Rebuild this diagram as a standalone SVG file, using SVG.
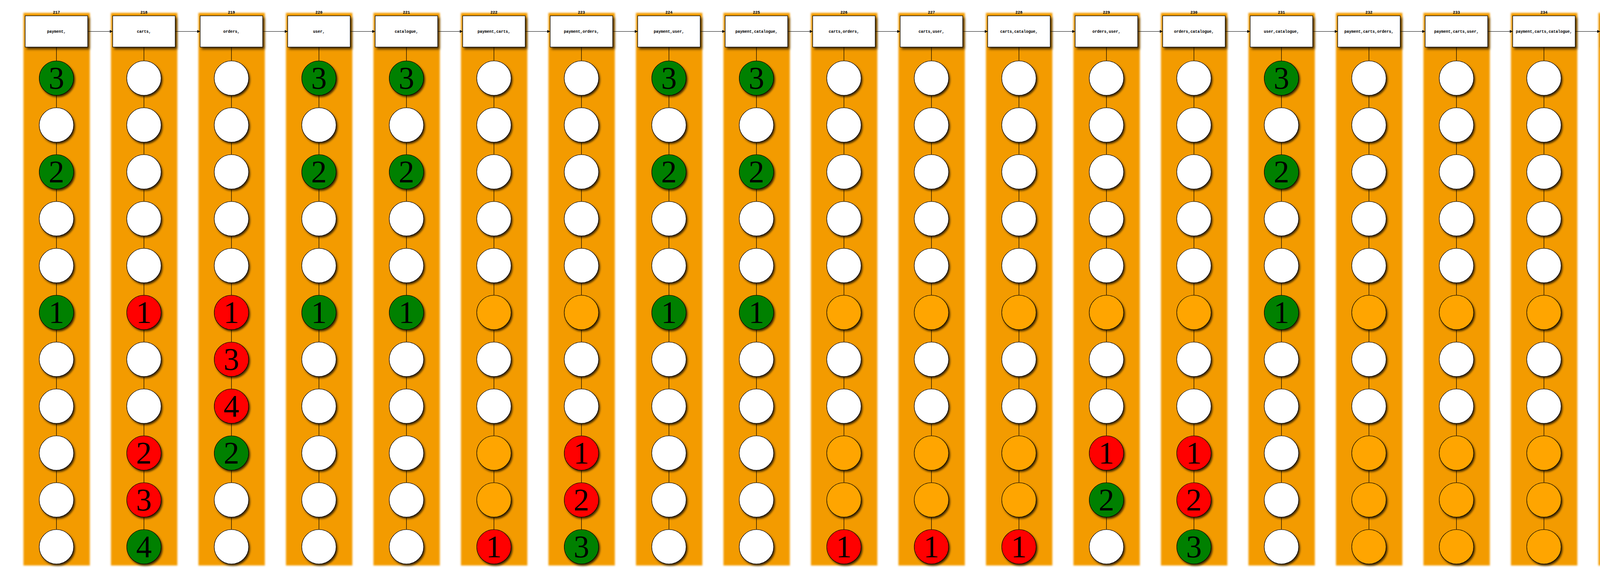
<svg xmlns="http://www.w3.org/2000/svg" xmlns:xlink="http://www.w3.org/1999/xlink" width="7008" height="1480" viewBox="0 0 7008 1480">
<style>
circle{stroke:#000;stroke-width:1.2;filter:url(#sh)}
.w circle{fill:#fff}.g circle{fill:#008000}.r circle{fill:#ff0000}.o circle{fill:#ffa500}
.d{font-family:"Liberation Serif","DejaVu Serif",serif;font-size:80px;text-anchor:middle;fill:#000}
.box rect{fill:#fff;stroke:#000;stroke-width:1.3;filter:url(#bs)}
.t{font-family:"Liberation Mono","DejaVu Sans Mono",monospace;font-weight:bold;font-size:10px;text-anchor:middle;fill:#000}
.cbg{fill:#f39b06;filter:url(#bl)}
#edges path,#edges use{stroke:#000;stroke-width:1.2;fill:none}
</style>
<defs>
<filter id="sh" x="-30%" y="-30%" width="170%" height="170%"><feDropShadow dx="3" dy="4" stdDeviation="2.5" flood-color="#000" flood-opacity="0.75"/></filter>
<filter id="bs" x="-20%" y="-30%" width="140%" height="170%"><feDropShadow dx="4" dy="5" stdDeviation="3" flood-color="#000" flood-opacity="0.7"/></filter>
<filter id="bl" x="-10%" y="-5%" width="120%" height="110%"><feGaussianBlur stdDeviation="2"/></filter>
<marker id="ah" markerUnits="userSpaceOnUse" markerWidth="9" markerHeight="9" refX="8" refY="4" orient="auto"><path d="M0,0L8,4L0,8z" fill="#000" stroke="none"/></marker>
<path id="vl" d="M144.5,120.5V156M144.5,244V276M144.5,364V396M144.5,484V516M144.5,604V636M144.5,724V756M144.5,844V876M144.5,964V996M144.5,1084V1116M144.5,1204V1236M144.5,1324V1356"/>
</defs>
<rect width="7008" height="1480" fill="#fff"/>
<g id="clusters">
<g id="k217" transform="translate(0,0)"><rect class="cbg" x="60" y="33" width="170" height="1415"/><text class="t" x="144.5" y="34.5">217</text></g>
<g id="k218" transform="translate(224,0)"><rect class="cbg" x="60" y="33" width="170" height="1415"/><text class="t" x="144.5" y="34.5">218</text></g>
<g id="k219" transform="translate(448,0)"><rect class="cbg" x="60" y="33" width="170" height="1415"/><text class="t" x="144.5" y="34.5">219</text></g>
<g id="k220" transform="translate(672,0)"><rect class="cbg" x="60" y="33" width="170" height="1415"/><text class="t" x="144.5" y="34.5">220</text></g>
<g id="k221" transform="translate(896,0)"><rect class="cbg" x="60" y="33" width="170" height="1415"/><text class="t" x="144.5" y="34.5">221</text></g>
<g id="k222" transform="translate(1120,0)"><rect class="cbg" x="60" y="33" width="170" height="1415"/><text class="t" x="144.5" y="34.5">222</text></g>
<g id="k223" transform="translate(1344,0)"><rect class="cbg" x="60" y="33" width="170" height="1415"/><text class="t" x="144.5" y="34.5">223</text></g>
<g id="k224" transform="translate(1568,0)"><rect class="cbg" x="60" y="33" width="170" height="1415"/><text class="t" x="144.5" y="34.5">224</text></g>
<g id="k225" transform="translate(1792,0)"><rect class="cbg" x="60" y="33" width="170" height="1415"/><text class="t" x="144.5" y="34.5">225</text></g>
<g id="k226" transform="translate(2016,0)"><rect class="cbg" x="60" y="33" width="170" height="1415"/><text class="t" x="144.5" y="34.5">226</text></g>
<g id="k227" transform="translate(2240,0)"><rect class="cbg" x="60" y="33" width="170" height="1415"/><text class="t" x="144.5" y="34.5">227</text></g>
<g id="k228" transform="translate(2464,0)"><rect class="cbg" x="60" y="33" width="170" height="1415"/><text class="t" x="144.5" y="34.5">228</text></g>
<g id="k229" transform="translate(2688,0)"><rect class="cbg" x="60" y="33" width="170" height="1415"/><text class="t" x="144.5" y="34.5">229</text></g>
<g id="k230" transform="translate(2912,0)"><rect class="cbg" x="60" y="33" width="170" height="1415"/><text class="t" x="144.5" y="34.5">230</text></g>
<g id="k231" transform="translate(3136,0)"><rect class="cbg" x="60" y="33" width="170" height="1415"/><text class="t" x="144.5" y="34.5">231</text></g>
<g id="k232" transform="translate(3360,0)"><rect class="cbg" x="60" y="33" width="170" height="1415"/><text class="t" x="144.5" y="34.5">232</text></g>
<g id="k233" transform="translate(3584,0)"><rect class="cbg" x="60" y="33" width="170" height="1415"/><text class="t" x="144.5" y="34.5">233</text></g>
<g id="k234" transform="translate(3808,0)"><rect class="cbg" x="60" y="33" width="170" height="1415"/><text class="t" x="144.5" y="34.5">234</text></g>
<g id="k235" transform="translate(4032,0)"><rect class="cbg" x="60" y="33" width="170" height="1415"/><text class="t" x="144.5" y="34.5">235</text></g>
<g id="k236" transform="translate(4256,0)"><rect class="cbg" x="60" y="33" width="170" height="1415"/><text class="t" x="144.5" y="34.5">236</text></g>
<g id="k237" transform="translate(4480,0)"><rect class="cbg" x="60" y="33" width="170" height="1415"/><text class="t" x="144.5" y="34.5">237</text></g>
<g id="k238" transform="translate(4704,0)"><rect class="cbg" x="60" y="33" width="170" height="1415"/><text class="t" x="144.5" y="34.5">238</text></g>
<g id="k239" transform="translate(4928,0)"><rect class="cbg" x="60" y="33" width="170" height="1415"/><text class="t" x="144.5" y="34.5">239</text></g>
<g id="k240" transform="translate(5152,0)"><rect class="cbg" x="60" y="33" width="170" height="1415"/><text class="t" x="144.5" y="34.5">240</text></g>
<g id="k241" transform="translate(5376,0)"><rect class="cbg" x="60" y="33" width="170" height="1415"/><text class="t" x="144.5" y="34.5">241</text></g>
<g id="k242" transform="translate(5600,0)"><rect class="cbg" x="60" y="33" width="170" height="1415"/><text class="t" x="144.5" y="34.5">242</text></g>
<g id="k243" transform="translate(5824,0)"><rect class="cbg" x="60" y="33" width="170" height="1415"/><text class="t" x="144.5" y="34.5">243</text></g>
<g id="k244" transform="translate(6048,0)"><rect class="cbg" x="60" y="33" width="170" height="1415"/><text class="t" x="144.5" y="34.5">244</text></g>
<g id="k245" transform="translate(6272,0)"><rect class="cbg" x="60" y="33" width="170" height="1415"/><text class="t" x="144.5" y="34.5">245</text></g>
<g id="k246" transform="translate(6496,0)"><rect class="cbg" x="60" y="33" width="170" height="1415"/><text class="t" x="144.5" y="34.5">246</text></g>
<g id="k247" transform="translate(6720,0)"><rect class="cbg" x="60" y="33" width="170" height="1415"/><text class="t" x="144.5" y="34.5">247</text></g>
</g>
<g id="edges">
<use href="#vl" x="0"/><use href="#vl" x="224"/><use href="#vl" x="448"/><use href="#vl" x="672"/><use href="#vl" x="896"/><use href="#vl" x="1120"/><use href="#vl" x="1344"/><use href="#vl" x="1568"/><use href="#vl" x="1792"/><use href="#vl" x="2016"/><use href="#vl" x="2240"/><use href="#vl" x="2464"/><use href="#vl" x="2688"/><use href="#vl" x="2912"/><use href="#vl" x="3136"/><use href="#vl" x="3360"/><use href="#vl" x="3584"/><use href="#vl" x="3808"/><use href="#vl" x="4032"/><use href="#vl" x="4256"/><use href="#vl" x="4480"/><use href="#vl" x="4704"/><use href="#vl" x="4928"/><use href="#vl" x="5152"/><use href="#vl" x="5376"/><use href="#vl" x="5600"/><use href="#vl" x="5824"/><use href="#vl" x="6048"/><use href="#vl" x="6272"/><use href="#vl" x="6496"/><use href="#vl" x="6720"/>
<path d="M224.5,80.5H288.5" marker-end="url(#ah)"/>
<path d="M448.5,80.5H512.5" marker-end="url(#ah)"/>
<path d="M672.5,80.5H736.5" marker-end="url(#ah)"/>
<path d="M896.5,80.5H960.5" marker-end="url(#ah)"/>
<path d="M1120.5,80.5H1184.5" marker-end="url(#ah)"/>
<path d="M1344.5,80.5H1408.5" marker-end="url(#ah)"/>
<path d="M1568.5,80.5H1632.5" marker-end="url(#ah)"/>
<path d="M1792.5,80.5H1856.5" marker-end="url(#ah)"/>
<path d="M2016.5,80.5H2080.5" marker-end="url(#ah)"/>
<path d="M2240.5,80.5H2304.5" marker-end="url(#ah)"/>
<path d="M2464.5,80.5H2528.5" marker-end="url(#ah)"/>
<path d="M2688.5,80.5H2752.5" marker-end="url(#ah)"/>
<path d="M2912.5,80.5H2976.5" marker-end="url(#ah)"/>
<path d="M3136.5,80.5H3200.5" marker-end="url(#ah)"/>
<path d="M3360.5,80.5H3424.5" marker-end="url(#ah)"/>
<path d="M3584.5,80.5H3648.5" marker-end="url(#ah)"/>
<path d="M3808.5,80.5H3872.5" marker-end="url(#ah)"/>
<path d="M4032.5,80.5H4096.5" marker-end="url(#ah)"/>
<path d="M4256.5,80.5H4320.5" marker-end="url(#ah)"/>
<path d="M4480.5,80.5H4544.5" marker-end="url(#ah)"/>
<path d="M4704.5,80.5H4768.5" marker-end="url(#ah)"/>
<path d="M4928.5,80.5H4992.5" marker-end="url(#ah)"/>
<path d="M5152.5,80.5H5216.5" marker-end="url(#ah)"/>
<path d="M5376.5,80.5H5440.5" marker-end="url(#ah)"/>
<path d="M5600.5,80.5H5664.5" marker-end="url(#ah)"/>
<path d="M5824.5,80.5H5888.5" marker-end="url(#ah)"/>
<path d="M6048.5,80.5H6112.5" marker-end="url(#ah)"/>
<path d="M6272.5,80.5H6336.5" marker-end="url(#ah)"/>
<path d="M6496.5,80.5H6560.5" marker-end="url(#ah)"/>
<path d="M6720.5,80.5H6784.5" marker-end="url(#ah)"/>
</g>
<g id="nodes">
<g id="c217" transform="translate(0,0)">
<g id="n217" class="box"><rect x="64.5" y="40.5" width="160" height="80"/><text class="t" x="144.5" y="83.5">payment,</text></g>
<g id="n217-1" class="g"><circle cx="144.5" cy="200" r="44"/><text class="d" x="144.5" y="227">3</text></g>
<g id="n217-2" class="w"><circle cx="144.5" cy="320" r="44"/></g>
<g id="n217-3" class="g"><circle cx="144.5" cy="440" r="44"/><text class="d" x="144.5" y="467">2</text></g>
<g id="n217-4" class="w"><circle cx="144.5" cy="560" r="44"/></g>
<g id="n217-5" class="w"><circle cx="144.5" cy="680" r="44"/></g>
<g id="n217-6" class="g"><circle cx="144.5" cy="800" r="44"/><text class="d" x="144.5" y="827">1</text></g>
<g id="n217-7" class="w"><circle cx="144.5" cy="920" r="44"/></g>
<g id="n217-8" class="w"><circle cx="144.5" cy="1040" r="44"/></g>
<g id="n217-9" class="w"><circle cx="144.5" cy="1160" r="44"/></g>
<g id="n217-10" class="w"><circle cx="144.5" cy="1280" r="44"/></g>
<g id="n217-11" class="w"><circle cx="144.5" cy="1400" r="44"/></g>
</g>
<g id="c218" transform="translate(224,0)">
<g id="n218" class="box"><rect x="64.5" y="40.5" width="160" height="80"/><text class="t" x="144.5" y="83.5">carts,</text></g>
<g id="n218-1" class="w"><circle cx="144.5" cy="200" r="44"/></g>
<g id="n218-2" class="w"><circle cx="144.5" cy="320" r="44"/></g>
<g id="n218-3" class="w"><circle cx="144.5" cy="440" r="44"/></g>
<g id="n218-4" class="w"><circle cx="144.5" cy="560" r="44"/></g>
<g id="n218-5" class="w"><circle cx="144.5" cy="680" r="44"/></g>
<g id="n218-6" class="r"><circle cx="144.5" cy="800" r="44"/><text class="d" x="144.5" y="827">1</text></g>
<g id="n218-7" class="w"><circle cx="144.5" cy="920" r="44"/></g>
<g id="n218-8" class="w"><circle cx="144.5" cy="1040" r="44"/></g>
<g id="n218-9" class="r"><circle cx="144.5" cy="1160" r="44"/><text class="d" x="144.5" y="1187">2</text></g>
<g id="n218-10" class="r"><circle cx="144.5" cy="1280" r="44"/><text class="d" x="144.5" y="1307">3</text></g>
<g id="n218-11" class="g"><circle cx="144.5" cy="1400" r="44"/><text class="d" x="144.5" y="1427">4</text></g>
</g>
<g id="c219" transform="translate(448,0)">
<g id="n219" class="box"><rect x="64.5" y="40.5" width="160" height="80"/><text class="t" x="144.5" y="83.5">orders,</text></g>
<g id="n219-1" class="w"><circle cx="144.5" cy="200" r="44"/></g>
<g id="n219-2" class="w"><circle cx="144.5" cy="320" r="44"/></g>
<g id="n219-3" class="w"><circle cx="144.5" cy="440" r="44"/></g>
<g id="n219-4" class="w"><circle cx="144.5" cy="560" r="44"/></g>
<g id="n219-5" class="w"><circle cx="144.5" cy="680" r="44"/></g>
<g id="n219-6" class="r"><circle cx="144.5" cy="800" r="44"/><text class="d" x="144.5" y="827">1</text></g>
<g id="n219-7" class="r"><circle cx="144.5" cy="920" r="44"/><text class="d" x="144.5" y="947">3</text></g>
<g id="n219-8" class="r"><circle cx="144.5" cy="1040" r="44"/><text class="d" x="144.5" y="1067">4</text></g>
<g id="n219-9" class="g"><circle cx="144.5" cy="1160" r="44"/><text class="d" x="144.5" y="1187">2</text></g>
<g id="n219-10" class="w"><circle cx="144.5" cy="1280" r="44"/></g>
<g id="n219-11" class="w"><circle cx="144.5" cy="1400" r="44"/></g>
</g>
<g id="c220" transform="translate(672,0)">
<g id="n220" class="box"><rect x="64.5" y="40.5" width="160" height="80"/><text class="t" x="144.5" y="83.5">user,</text></g>
<g id="n220-1" class="g"><circle cx="144.5" cy="200" r="44"/><text class="d" x="144.5" y="227">3</text></g>
<g id="n220-2" class="w"><circle cx="144.5" cy="320" r="44"/></g>
<g id="n220-3" class="g"><circle cx="144.5" cy="440" r="44"/><text class="d" x="144.5" y="467">2</text></g>
<g id="n220-4" class="w"><circle cx="144.5" cy="560" r="44"/></g>
<g id="n220-5" class="w"><circle cx="144.5" cy="680" r="44"/></g>
<g id="n220-6" class="g"><circle cx="144.5" cy="800" r="44"/><text class="d" x="144.5" y="827">1</text></g>
<g id="n220-7" class="w"><circle cx="144.5" cy="920" r="44"/></g>
<g id="n220-8" class="w"><circle cx="144.5" cy="1040" r="44"/></g>
<g id="n220-9" class="w"><circle cx="144.5" cy="1160" r="44"/></g>
<g id="n220-10" class="w"><circle cx="144.5" cy="1280" r="44"/></g>
<g id="n220-11" class="w"><circle cx="144.5" cy="1400" r="44"/></g>
</g>
<g id="c221" transform="translate(896,0)">
<g id="n221" class="box"><rect x="64.5" y="40.5" width="160" height="80"/><text class="t" x="144.5" y="83.5">catalogue,</text></g>
<g id="n221-1" class="g"><circle cx="144.5" cy="200" r="44"/><text class="d" x="144.5" y="227">3</text></g>
<g id="n221-2" class="w"><circle cx="144.5" cy="320" r="44"/></g>
<g id="n221-3" class="g"><circle cx="144.5" cy="440" r="44"/><text class="d" x="144.5" y="467">2</text></g>
<g id="n221-4" class="w"><circle cx="144.5" cy="560" r="44"/></g>
<g id="n221-5" class="w"><circle cx="144.5" cy="680" r="44"/></g>
<g id="n221-6" class="g"><circle cx="144.5" cy="800" r="44"/><text class="d" x="144.5" y="827">1</text></g>
<g id="n221-7" class="w"><circle cx="144.5" cy="920" r="44"/></g>
<g id="n221-8" class="w"><circle cx="144.5" cy="1040" r="44"/></g>
<g id="n221-9" class="w"><circle cx="144.5" cy="1160" r="44"/></g>
<g id="n221-10" class="w"><circle cx="144.5" cy="1280" r="44"/></g>
<g id="n221-11" class="w"><circle cx="144.5" cy="1400" r="44"/></g>
</g>
<g id="c222" transform="translate(1120,0)">
<g id="n222" class="box"><rect x="64.5" y="40.5" width="160" height="80"/><text class="t" x="144.5" y="83.5">payment,carts,</text></g>
<g id="n222-1" class="w"><circle cx="144.5" cy="200" r="44"/></g>
<g id="n222-2" class="w"><circle cx="144.5" cy="320" r="44"/></g>
<g id="n222-3" class="w"><circle cx="144.5" cy="440" r="44"/></g>
<g id="n222-4" class="w"><circle cx="144.5" cy="560" r="44"/></g>
<g id="n222-5" class="w"><circle cx="144.5" cy="680" r="44"/></g>
<g id="n222-6" class="o"><circle cx="144.5" cy="800" r="44"/></g>
<g id="n222-7" class="w"><circle cx="144.5" cy="920" r="44"/></g>
<g id="n222-8" class="w"><circle cx="144.5" cy="1040" r="44"/></g>
<g id="n222-9" class="o"><circle cx="144.5" cy="1160" r="44"/></g>
<g id="n222-10" class="o"><circle cx="144.5" cy="1280" r="44"/></g>
<g id="n222-11" class="r"><circle cx="144.5" cy="1400" r="44"/><text class="d" x="144.5" y="1427">1</text></g>
</g>
<g id="c223" transform="translate(1344,0)">
<g id="n223" class="box"><rect x="64.5" y="40.5" width="160" height="80"/><text class="t" x="144.5" y="83.5">payment,orders,</text></g>
<g id="n223-1" class="w"><circle cx="144.5" cy="200" r="44"/></g>
<g id="n223-2" class="w"><circle cx="144.5" cy="320" r="44"/></g>
<g id="n223-3" class="w"><circle cx="144.5" cy="440" r="44"/></g>
<g id="n223-4" class="w"><circle cx="144.5" cy="560" r="44"/></g>
<g id="n223-5" class="w"><circle cx="144.5" cy="680" r="44"/></g>
<g id="n223-6" class="o"><circle cx="144.5" cy="800" r="44"/></g>
<g id="n223-7" class="w"><circle cx="144.5" cy="920" r="44"/></g>
<g id="n223-8" class="w"><circle cx="144.5" cy="1040" r="44"/></g>
<g id="n223-9" class="r"><circle cx="144.5" cy="1160" r="44"/><text class="d" x="144.5" y="1187">1</text></g>
<g id="n223-10" class="r"><circle cx="144.5" cy="1280" r="44"/><text class="d" x="144.5" y="1307">2</text></g>
<g id="n223-11" class="g"><circle cx="144.5" cy="1400" r="44"/><text class="d" x="144.5" y="1427">3</text></g>
</g>
<g id="c224" transform="translate(1568,0)">
<g id="n224" class="box"><rect x="64.5" y="40.5" width="160" height="80"/><text class="t" x="144.5" y="83.5">payment,user,</text></g>
<g id="n224-1" class="g"><circle cx="144.5" cy="200" r="44"/><text class="d" x="144.5" y="227">3</text></g>
<g id="n224-2" class="w"><circle cx="144.5" cy="320" r="44"/></g>
<g id="n224-3" class="g"><circle cx="144.5" cy="440" r="44"/><text class="d" x="144.5" y="467">2</text></g>
<g id="n224-4" class="w"><circle cx="144.5" cy="560" r="44"/></g>
<g id="n224-5" class="w"><circle cx="144.5" cy="680" r="44"/></g>
<g id="n224-6" class="g"><circle cx="144.5" cy="800" r="44"/><text class="d" x="144.5" y="827">1</text></g>
<g id="n224-7" class="w"><circle cx="144.5" cy="920" r="44"/></g>
<g id="n224-8" class="w"><circle cx="144.5" cy="1040" r="44"/></g>
<g id="n224-9" class="w"><circle cx="144.5" cy="1160" r="44"/></g>
<g id="n224-10" class="w"><circle cx="144.5" cy="1280" r="44"/></g>
<g id="n224-11" class="w"><circle cx="144.5" cy="1400" r="44"/></g>
</g>
<g id="c225" transform="translate(1792,0)">
<g id="n225" class="box"><rect x="64.5" y="40.5" width="160" height="80"/><text class="t" x="144.5" y="83.5">payment,catalogue,</text></g>
<g id="n225-1" class="g"><circle cx="144.5" cy="200" r="44"/><text class="d" x="144.5" y="227">3</text></g>
<g id="n225-2" class="w"><circle cx="144.5" cy="320" r="44"/></g>
<g id="n225-3" class="g"><circle cx="144.5" cy="440" r="44"/><text class="d" x="144.5" y="467">2</text></g>
<g id="n225-4" class="w"><circle cx="144.5" cy="560" r="44"/></g>
<g id="n225-5" class="w"><circle cx="144.5" cy="680" r="44"/></g>
<g id="n225-6" class="g"><circle cx="144.5" cy="800" r="44"/><text class="d" x="144.5" y="827">1</text></g>
<g id="n225-7" class="w"><circle cx="144.5" cy="920" r="44"/></g>
<g id="n225-8" class="w"><circle cx="144.5" cy="1040" r="44"/></g>
<g id="n225-9" class="w"><circle cx="144.5" cy="1160" r="44"/></g>
<g id="n225-10" class="w"><circle cx="144.5" cy="1280" r="44"/></g>
<g id="n225-11" class="w"><circle cx="144.5" cy="1400" r="44"/></g>
</g>
<g id="c226" transform="translate(2016,0)">
<g id="n226" class="box"><rect x="64.5" y="40.5" width="160" height="80"/><text class="t" x="144.5" y="83.5">carts,orders,</text></g>
<g id="n226-1" class="w"><circle cx="144.5" cy="200" r="44"/></g>
<g id="n226-2" class="w"><circle cx="144.5" cy="320" r="44"/></g>
<g id="n226-3" class="w"><circle cx="144.5" cy="440" r="44"/></g>
<g id="n226-4" class="w"><circle cx="144.5" cy="560" r="44"/></g>
<g id="n226-5" class="w"><circle cx="144.5" cy="680" r="44"/></g>
<g id="n226-6" class="o"><circle cx="144.5" cy="800" r="44"/></g>
<g id="n226-7" class="w"><circle cx="144.5" cy="920" r="44"/></g>
<g id="n226-8" class="w"><circle cx="144.5" cy="1040" r="44"/></g>
<g id="n226-9" class="o"><circle cx="144.5" cy="1160" r="44"/></g>
<g id="n226-10" class="o"><circle cx="144.5" cy="1280" r="44"/></g>
<g id="n226-11" class="r"><circle cx="144.5" cy="1400" r="44"/><text class="d" x="144.5" y="1427">1</text></g>
</g>
<g id="c227" transform="translate(2240,0)">
<g id="n227" class="box"><rect x="64.5" y="40.5" width="160" height="80"/><text class="t" x="144.5" y="83.5">carts,user,</text></g>
<g id="n227-1" class="w"><circle cx="144.5" cy="200" r="44"/></g>
<g id="n227-2" class="w"><circle cx="144.5" cy="320" r="44"/></g>
<g id="n227-3" class="w"><circle cx="144.5" cy="440" r="44"/></g>
<g id="n227-4" class="w"><circle cx="144.5" cy="560" r="44"/></g>
<g id="n227-5" class="w"><circle cx="144.5" cy="680" r="44"/></g>
<g id="n227-6" class="o"><circle cx="144.5" cy="800" r="44"/></g>
<g id="n227-7" class="w"><circle cx="144.5" cy="920" r="44"/></g>
<g id="n227-8" class="w"><circle cx="144.5" cy="1040" r="44"/></g>
<g id="n227-9" class="o"><circle cx="144.5" cy="1160" r="44"/></g>
<g id="n227-10" class="o"><circle cx="144.5" cy="1280" r="44"/></g>
<g id="n227-11" class="r"><circle cx="144.5" cy="1400" r="44"/><text class="d" x="144.5" y="1427">1</text></g>
</g>
<g id="c228" transform="translate(2464,0)">
<g id="n228" class="box"><rect x="64.5" y="40.5" width="160" height="80"/><text class="t" x="144.5" y="83.5">carts,catalogue,</text></g>
<g id="n228-1" class="w"><circle cx="144.5" cy="200" r="44"/></g>
<g id="n228-2" class="w"><circle cx="144.5" cy="320" r="44"/></g>
<g id="n228-3" class="w"><circle cx="144.5" cy="440" r="44"/></g>
<g id="n228-4" class="w"><circle cx="144.5" cy="560" r="44"/></g>
<g id="n228-5" class="w"><circle cx="144.5" cy="680" r="44"/></g>
<g id="n228-6" class="o"><circle cx="144.5" cy="800" r="44"/></g>
<g id="n228-7" class="w"><circle cx="144.5" cy="920" r="44"/></g>
<g id="n228-8" class="w"><circle cx="144.5" cy="1040" r="44"/></g>
<g id="n228-9" class="o"><circle cx="144.5" cy="1160" r="44"/></g>
<g id="n228-10" class="o"><circle cx="144.5" cy="1280" r="44"/></g>
<g id="n228-11" class="r"><circle cx="144.5" cy="1400" r="44"/><text class="d" x="144.5" y="1427">1</text></g>
</g>
<g id="c229" transform="translate(2688,0)">
<g id="n229" class="box"><rect x="64.5" y="40.5" width="160" height="80"/><text class="t" x="144.5" y="83.5">orders,user,</text></g>
<g id="n229-1" class="w"><circle cx="144.5" cy="200" r="44"/></g>
<g id="n229-2" class="w"><circle cx="144.5" cy="320" r="44"/></g>
<g id="n229-3" class="w"><circle cx="144.5" cy="440" r="44"/></g>
<g id="n229-4" class="w"><circle cx="144.5" cy="560" r="44"/></g>
<g id="n229-5" class="w"><circle cx="144.5" cy="680" r="44"/></g>
<g id="n229-6" class="o"><circle cx="144.5" cy="800" r="44"/></g>
<g id="n229-7" class="w"><circle cx="144.5" cy="920" r="44"/></g>
<g id="n229-8" class="w"><circle cx="144.5" cy="1040" r="44"/></g>
<g id="n229-9" class="r"><circle cx="144.5" cy="1160" r="44"/><text class="d" x="144.5" y="1187">1</text></g>
<g id="n229-10" class="g"><circle cx="144.5" cy="1280" r="44"/><text class="d" x="144.5" y="1307">2</text></g>
<g id="n229-11" class="w"><circle cx="144.5" cy="1400" r="44"/></g>
</g>
<g id="c230" transform="translate(2912,0)">
<g id="n230" class="box"><rect x="64.5" y="40.5" width="160" height="80"/><text class="t" x="144.5" y="83.5">orders,catalogue,</text></g>
<g id="n230-1" class="w"><circle cx="144.5" cy="200" r="44"/></g>
<g id="n230-2" class="w"><circle cx="144.5" cy="320" r="44"/></g>
<g id="n230-3" class="w"><circle cx="144.5" cy="440" r="44"/></g>
<g id="n230-4" class="w"><circle cx="144.5" cy="560" r="44"/></g>
<g id="n230-5" class="w"><circle cx="144.5" cy="680" r="44"/></g>
<g id="n230-6" class="o"><circle cx="144.5" cy="800" r="44"/></g>
<g id="n230-7" class="w"><circle cx="144.5" cy="920" r="44"/></g>
<g id="n230-8" class="w"><circle cx="144.5" cy="1040" r="44"/></g>
<g id="n230-9" class="r"><circle cx="144.5" cy="1160" r="44"/><text class="d" x="144.5" y="1187">1</text></g>
<g id="n230-10" class="r"><circle cx="144.5" cy="1280" r="44"/><text class="d" x="144.5" y="1307">2</text></g>
<g id="n230-11" class="g"><circle cx="144.5" cy="1400" r="44"/><text class="d" x="144.5" y="1427">3</text></g>
</g>
<g id="c231" transform="translate(3136,0)">
<g id="n231" class="box"><rect x="64.5" y="40.5" width="160" height="80"/><text class="t" x="144.5" y="83.5">user,catalogue,</text></g>
<g id="n231-1" class="g"><circle cx="144.5" cy="200" r="44"/><text class="d" x="144.5" y="227">3</text></g>
<g id="n231-2" class="w"><circle cx="144.5" cy="320" r="44"/></g>
<g id="n231-3" class="g"><circle cx="144.5" cy="440" r="44"/><text class="d" x="144.5" y="467">2</text></g>
<g id="n231-4" class="w"><circle cx="144.5" cy="560" r="44"/></g>
<g id="n231-5" class="w"><circle cx="144.5" cy="680" r="44"/></g>
<g id="n231-6" class="g"><circle cx="144.5" cy="800" r="44"/><text class="d" x="144.5" y="827">1</text></g>
<g id="n231-7" class="w"><circle cx="144.5" cy="920" r="44"/></g>
<g id="n231-8" class="w"><circle cx="144.5" cy="1040" r="44"/></g>
<g id="n231-9" class="w"><circle cx="144.5" cy="1160" r="44"/></g>
<g id="n231-10" class="w"><circle cx="144.5" cy="1280" r="44"/></g>
<g id="n231-11" class="w"><circle cx="144.5" cy="1400" r="44"/></g>
</g>
<g id="c232" transform="translate(3360,0)">
<g id="n232" class="box"><rect x="64.5" y="40.5" width="160" height="80"/><text class="t" x="144.5" y="83.5">payment,carts,orders,</text></g>
<g id="n232-1" class="w"><circle cx="144.5" cy="200" r="44"/></g>
<g id="n232-2" class="w"><circle cx="144.5" cy="320" r="44"/></g>
<g id="n232-3" class="w"><circle cx="144.5" cy="440" r="44"/></g>
<g id="n232-4" class="w"><circle cx="144.5" cy="560" r="44"/></g>
<g id="n232-5" class="w"><circle cx="144.5" cy="680" r="44"/></g>
<g id="n232-6" class="o"><circle cx="144.5" cy="800" r="44"/></g>
<g id="n232-7" class="w"><circle cx="144.5" cy="920" r="44"/></g>
<g id="n232-8" class="w"><circle cx="144.5" cy="1040" r="44"/></g>
<g id="n232-9" class="o"><circle cx="144.5" cy="1160" r="44"/></g>
<g id="n232-10" class="o"><circle cx="144.5" cy="1280" r="44"/></g>
<g id="n232-11" class="o"><circle cx="144.5" cy="1400" r="44"/></g>
</g>
<g id="c233" transform="translate(3584,0)">
<g id="n233" class="box"><rect x="64.5" y="40.5" width="160" height="80"/><text class="t" x="144.5" y="83.5">payment,carts,user,</text></g>
<g id="n233-1" class="w"><circle cx="144.5" cy="200" r="44"/></g>
<g id="n233-2" class="w"><circle cx="144.5" cy="320" r="44"/></g>
<g id="n233-3" class="w"><circle cx="144.5" cy="440" r="44"/></g>
<g id="n233-4" class="w"><circle cx="144.5" cy="560" r="44"/></g>
<g id="n233-5" class="w"><circle cx="144.5" cy="680" r="44"/></g>
<g id="n233-6" class="o"><circle cx="144.5" cy="800" r="44"/></g>
<g id="n233-7" class="w"><circle cx="144.5" cy="920" r="44"/></g>
<g id="n233-8" class="w"><circle cx="144.5" cy="1040" r="44"/></g>
<g id="n233-9" class="o"><circle cx="144.5" cy="1160" r="44"/></g>
<g id="n233-10" class="o"><circle cx="144.5" cy="1280" r="44"/></g>
<g id="n233-11" class="o"><circle cx="144.5" cy="1400" r="44"/></g>
</g>
<g id="c234" transform="translate(3808,0)">
<g id="n234" class="box"><rect x="64.5" y="40.5" width="160" height="80"/><text class="t" x="144.5" y="83.5">payment,carts,catalogue,</text></g>
<g id="n234-1" class="w"><circle cx="144.5" cy="200" r="44"/></g>
<g id="n234-2" class="w"><circle cx="144.5" cy="320" r="44"/></g>
<g id="n234-3" class="w"><circle cx="144.5" cy="440" r="44"/></g>
<g id="n234-4" class="w"><circle cx="144.5" cy="560" r="44"/></g>
<g id="n234-5" class="w"><circle cx="144.5" cy="680" r="44"/></g>
<g id="n234-6" class="o"><circle cx="144.5" cy="800" r="44"/></g>
<g id="n234-7" class="w"><circle cx="144.5" cy="920" r="44"/></g>
<g id="n234-8" class="w"><circle cx="144.5" cy="1040" r="44"/></g>
<g id="n234-9" class="o"><circle cx="144.5" cy="1160" r="44"/></g>
<g id="n234-10" class="o"><circle cx="144.5" cy="1280" r="44"/></g>
<g id="n234-11" class="o"><circle cx="144.5" cy="1400" r="44"/></g>
</g>
<g id="c235" transform="translate(4032,0)">
<g id="n235" class="box"><rect x="64.5" y="40.5" width="160" height="80"/><text class="t" x="144.5" y="83.5">payment,orders,user,</text></g>
<g id="n235-1" class="w"><circle cx="144.5" cy="200" r="44"/></g>
<g id="n235-2" class="w"><circle cx="144.5" cy="320" r="44"/></g>
<g id="n235-3" class="w"><circle cx="144.5" cy="440" r="44"/></g>
<g id="n235-4" class="w"><circle cx="144.5" cy="560" r="44"/></g>
<g id="n235-5" class="w"><circle cx="144.5" cy="680" r="44"/></g>
<g id="n235-6" class="o"><circle cx="144.5" cy="800" r="44"/></g>
<g id="n235-7" class="w"><circle cx="144.5" cy="920" r="44"/></g>
<g id="n235-8" class="w"><circle cx="144.5" cy="1040" r="44"/></g>
<g id="n235-9" class="o"><circle cx="144.5" cy="1160" r="44"/></g>
<g id="n235-10" class="o"><circle cx="144.5" cy="1280" r="44"/></g>
<g id="n235-11" class="r"><circle cx="144.5" cy="1400" r="44"/><text class="d" x="144.5" y="1427">1</text></g>
</g>
<g id="c236" transform="translate(4256,0)">
<g id="n236" class="box"><rect x="64.5" y="40.5" width="160" height="80"/><text class="t" x="144.5" y="83.5">payment,orders,catalogue,</text></g>
<g id="n236-1" class="w"><circle cx="144.5" cy="200" r="44"/></g>
<g id="n236-2" class="w"><circle cx="144.5" cy="320" r="44"/></g>
<g id="n236-3" class="w"><circle cx="144.5" cy="440" r="44"/></g>
<g id="n236-4" class="w"><circle cx="144.5" cy="560" r="44"/></g>
<g id="n236-5" class="w"><circle cx="144.5" cy="680" r="44"/></g>
<g id="n236-6" class="o"><circle cx="144.5" cy="800" r="44"/></g>
<g id="n236-7" class="w"><circle cx="144.5" cy="920" r="44"/></g>
<g id="n236-8" class="w"><circle cx="144.5" cy="1040" r="44"/></g>
<g id="n236-9" class="o"><circle cx="144.5" cy="1160" r="44"/></g>
<g id="n236-10" class="o"><circle cx="144.5" cy="1280" r="44"/></g>
<g id="n236-11" class="g"><circle cx="144.5" cy="1400" r="44"/><text class="d" x="144.5" y="1427">1</text></g>
</g>
<g id="c237" transform="translate(4480,0)">
<g id="n237" class="box"><rect x="64.5" y="40.5" width="160" height="80"/><text class="t" x="144.5" y="83.5">payment,user,catalogue,</text></g>
<g id="n237-1" class="g"><circle cx="144.5" cy="200" r="44"/><text class="d" x="144.5" y="227">3</text></g>
<g id="n237-2" class="w"><circle cx="144.5" cy="320" r="44"/></g>
<g id="n237-3" class="g"><circle cx="144.5" cy="440" r="44"/><text class="d" x="144.5" y="467">2</text></g>
<g id="n237-4" class="w"><circle cx="144.5" cy="560" r="44"/></g>
<g id="n237-5" class="w"><circle cx="144.5" cy="680" r="44"/></g>
<g id="n237-6" class="g"><circle cx="144.5" cy="800" r="44"/><text class="d" x="144.5" y="827">1</text></g>
<g id="n237-7" class="w"><circle cx="144.5" cy="920" r="44"/></g>
<g id="n237-8" class="w"><circle cx="144.5" cy="1040" r="44"/></g>
<g id="n237-9" class="w"><circle cx="144.5" cy="1160" r="44"/></g>
<g id="n237-10" class="w"><circle cx="144.5" cy="1280" r="44"/></g>
<g id="n237-11" class="w"><circle cx="144.5" cy="1400" r="44"/></g>
</g>
<g id="c238" transform="translate(4704,0)">
<g id="n238" class="box"><rect x="64.5" y="40.5" width="160" height="80"/><text class="t" x="144.5" y="83.5">carts,orders,user,</text></g>
<g id="n238-1" class="w"><circle cx="144.5" cy="200" r="44"/></g>
<g id="n238-2" class="w"><circle cx="144.5" cy="320" r="44"/></g>
<g id="n238-3" class="w"><circle cx="144.5" cy="440" r="44"/></g>
<g id="n238-4" class="w"><circle cx="144.5" cy="560" r="44"/></g>
<g id="n238-5" class="w"><circle cx="144.5" cy="680" r="44"/></g>
<g id="n238-6" class="o"><circle cx="144.5" cy="800" r="44"/></g>
<g id="n238-7" class="w"><circle cx="144.5" cy="920" r="44"/></g>
<g id="n238-8" class="w"><circle cx="144.5" cy="1040" r="44"/></g>
<g id="n238-9" class="o"><circle cx="144.5" cy="1160" r="44"/></g>
<g id="n238-10" class="o"><circle cx="144.5" cy="1280" r="44"/></g>
<g id="n238-11" class="o"><circle cx="144.5" cy="1400" r="44"/></g>
</g>
<g id="c239" transform="translate(4928,0)">
<g id="n239" class="box"><rect x="64.5" y="40.5" width="160" height="80"/><text class="t" x="144.5" y="83.5">carts,orders,catalogue,</text></g>
<g id="n239-1" class="w"><circle cx="144.5" cy="200" r="44"/></g>
<g id="n239-2" class="w"><circle cx="144.5" cy="320" r="44"/></g>
<g id="n239-3" class="w"><circle cx="144.5" cy="440" r="44"/></g>
<g id="n239-4" class="w"><circle cx="144.5" cy="560" r="44"/></g>
<g id="n239-5" class="w"><circle cx="144.5" cy="680" r="44"/></g>
<g id="n239-6" class="o"><circle cx="144.5" cy="800" r="44"/></g>
<g id="n239-7" class="w"><circle cx="144.5" cy="920" r="44"/></g>
<g id="n239-8" class="w"><circle cx="144.5" cy="1040" r="44"/></g>
<g id="n239-9" class="o"><circle cx="144.5" cy="1160" r="44"/></g>
<g id="n239-10" class="o"><circle cx="144.5" cy="1280" r="44"/></g>
<g id="n239-11" class="o"><circle cx="144.5" cy="1400" r="44"/></g>
</g>
<g id="c240" transform="translate(5152,0)">
<g id="n240" class="box"><rect x="64.5" y="40.5" width="160" height="80"/><text class="t" x="144.5" y="83.5">carts,user,catalogue,</text></g>
<g id="n240-1" class="w"><circle cx="144.5" cy="200" r="44"/></g>
<g id="n240-2" class="w"><circle cx="144.5" cy="320" r="44"/></g>
<g id="n240-3" class="w"><circle cx="144.5" cy="440" r="44"/></g>
<g id="n240-4" class="w"><circle cx="144.5" cy="560" r="44"/></g>
<g id="n240-5" class="w"><circle cx="144.5" cy="680" r="44"/></g>
<g id="n240-6" class="o"><circle cx="144.5" cy="800" r="44"/></g>
<g id="n240-7" class="w"><circle cx="144.5" cy="920" r="44"/></g>
<g id="n240-8" class="w"><circle cx="144.5" cy="1040" r="44"/></g>
<g id="n240-9" class="o"><circle cx="144.5" cy="1160" r="44"/></g>
<g id="n240-10" class="o"><circle cx="144.5" cy="1280" r="44"/></g>
<g id="n240-11" class="o"><circle cx="144.5" cy="1400" r="44"/></g>
</g>
<g id="c241" transform="translate(5376,0)">
<g id="n241" class="box"><rect x="64.5" y="40.5" width="160" height="80"/><text class="t" x="144.5" y="83.5">orders,user,catalogue,</text></g>
<g id="n241-1" class="w"><circle cx="144.5" cy="200" r="44"/></g>
<g id="n241-2" class="w"><circle cx="144.5" cy="320" r="44"/></g>
<g id="n241-3" class="w"><circle cx="144.5" cy="440" r="44"/></g>
<g id="n241-4" class="w"><circle cx="144.5" cy="560" r="44"/></g>
<g id="n241-5" class="w"><circle cx="144.5" cy="680" r="44"/></g>
<g id="n241-6" class="o"><circle cx="144.5" cy="800" r="44"/></g>
<g id="n241-7" class="w"><circle cx="144.5" cy="920" r="44"/></g>
<g id="n241-8" class="w"><circle cx="144.5" cy="1040" r="44"/></g>
<g id="n241-9" class="o"><circle cx="144.5" cy="1160" r="44"/></g>
<g id="n241-10" class="o"><circle cx="144.5" cy="1280" r="44"/></g>
<g id="n241-11" class="g"><circle cx="144.5" cy="1400" r="44"/><text class="d" x="144.5" y="1427">1</text></g>
</g>
<g id="c242" transform="translate(5600,0)">
<g id="n242" class="box"><rect x="64.5" y="40.5" width="160" height="80"/><text class="t" x="144.5" y="83.5">payment,carts,orders,user,</text></g>
<g id="n242-1" class="w"><circle cx="144.5" cy="200" r="44"/></g>
<g id="n242-2" class="w"><circle cx="144.5" cy="320" r="44"/></g>
<g id="n242-3" class="w"><circle cx="144.5" cy="440" r="44"/></g>
<g id="n242-4" class="w"><circle cx="144.5" cy="560" r="44"/></g>
<g id="n242-5" class="w"><circle cx="144.5" cy="680" r="44"/></g>
<g id="n242-6" class="o"><circle cx="144.5" cy="800" r="44"/></g>
<g id="n242-7" class="w"><circle cx="144.5" cy="920" r="44"/></g>
<g id="n242-8" class="w"><circle cx="144.5" cy="1040" r="44"/></g>
<g id="n242-9" class="o"><circle cx="144.5" cy="1160" r="44"/></g>
<g id="n242-10" class="o"><circle cx="144.5" cy="1280" r="44"/></g>
<g id="n242-11" class="o"><circle cx="144.5" cy="1400" r="44"/></g>
</g>
<g id="c243" transform="translate(5824,0)">
<g id="n243" class="box"><rect x="64.5" y="40.5" width="160" height="80"/><text class="t" x="144.5" y="77">payment,carts,orders,catal</text><text class="t" x="144.5" y="90">ogue,</text></g>
<g id="n243-1" class="w"><circle cx="144.5" cy="200" r="44"/></g>
<g id="n243-2" class="w"><circle cx="144.5" cy="320" r="44"/></g>
<g id="n243-3" class="w"><circle cx="144.5" cy="440" r="44"/></g>
<g id="n243-4" class="w"><circle cx="144.5" cy="560" r="44"/></g>
<g id="n243-5" class="w"><circle cx="144.5" cy="680" r="44"/></g>
<g id="n243-6" class="o"><circle cx="144.5" cy="800" r="44"/></g>
<g id="n243-7" class="w"><circle cx="144.5" cy="920" r="44"/></g>
<g id="n243-8" class="w"><circle cx="144.5" cy="1040" r="44"/></g>
<g id="n243-9" class="o"><circle cx="144.5" cy="1160" r="44"/></g>
<g id="n243-10" class="o"><circle cx="144.5" cy="1280" r="44"/></g>
<g id="n243-11" class="o"><circle cx="144.5" cy="1400" r="44"/></g>
</g>
<g id="c244" transform="translate(6048,0)">
<g id="n244" class="box"><rect x="64.5" y="40.5" width="160" height="80"/><text class="t" x="144.5" y="77">payment,carts,user,catalog</text><text class="t" x="144.5" y="90">ue,</text></g>
<g id="n244-1" class="w"><circle cx="144.5" cy="200" r="44"/></g>
<g id="n244-2" class="w"><circle cx="144.5" cy="320" r="44"/></g>
<g id="n244-3" class="w"><circle cx="144.5" cy="440" r="44"/></g>
<g id="n244-4" class="w"><circle cx="144.5" cy="560" r="44"/></g>
<g id="n244-5" class="w"><circle cx="144.5" cy="680" r="44"/></g>
<g id="n244-6" class="o"><circle cx="144.5" cy="800" r="44"/></g>
<g id="n244-7" class="w"><circle cx="144.5" cy="920" r="44"/></g>
<g id="n244-8" class="w"><circle cx="144.5" cy="1040" r="44"/></g>
<g id="n244-9" class="o"><circle cx="144.5" cy="1160" r="44"/></g>
<g id="n244-10" class="o"><circle cx="144.5" cy="1280" r="44"/></g>
<g id="n244-11" class="o"><circle cx="144.5" cy="1400" r="44"/></g>
</g>
<g id="c245" transform="translate(6272,0)">
<g id="n245" class="box"><rect x="64.5" y="40.5" width="160" height="80"/><text class="t" x="144.5" y="77">payment,orders,user,catalo</text><text class="t" x="144.5" y="90">gue,</text></g>
<g id="n245-1" class="w"><circle cx="144.5" cy="200" r="44"/></g>
<g id="n245-2" class="w"><circle cx="144.5" cy="320" r="44"/></g>
<g id="n245-3" class="w"><circle cx="144.5" cy="440" r="44"/></g>
<g id="n245-4" class="w"><circle cx="144.5" cy="560" r="44"/></g>
<g id="n245-5" class="w"><circle cx="144.5" cy="680" r="44"/></g>
<g id="n245-6" class="o"><circle cx="144.5" cy="800" r="44"/></g>
<g id="n245-7" class="w"><circle cx="144.5" cy="920" r="44"/></g>
<g id="n245-8" class="w"><circle cx="144.5" cy="1040" r="44"/></g>
<g id="n245-9" class="o"><circle cx="144.5" cy="1160" r="44"/></g>
<g id="n245-10" class="o"><circle cx="144.5" cy="1280" r="44"/></g>
<g id="n245-11" class="o"><circle cx="144.5" cy="1400" r="44"/></g>
</g>
<g id="c246" transform="translate(6496,0)">
<g id="n246" class="box"><rect x="64.5" y="40.5" width="160" height="80"/><text class="t" x="144.5" y="77">carts,orders,user,catalogu</text><text class="t" x="144.5" y="90">e,</text></g>
<g id="n246-1" class="w"><circle cx="144.5" cy="200" r="44"/></g>
<g id="n246-2" class="w"><circle cx="144.5" cy="320" r="44"/></g>
<g id="n246-3" class="w"><circle cx="144.5" cy="440" r="44"/></g>
<g id="n246-4" class="w"><circle cx="144.5" cy="560" r="44"/></g>
<g id="n246-5" class="w"><circle cx="144.5" cy="680" r="44"/></g>
<g id="n246-6" class="o"><circle cx="144.5" cy="800" r="44"/></g>
<g id="n246-7" class="w"><circle cx="144.5" cy="920" r="44"/></g>
<g id="n246-8" class="w"><circle cx="144.5" cy="1040" r="44"/></g>
<g id="n246-9" class="o"><circle cx="144.5" cy="1160" r="44"/></g>
<g id="n246-10" class="o"><circle cx="144.5" cy="1280" r="44"/></g>
<g id="n246-11" class="o"><circle cx="144.5" cy="1400" r="44"/></g>
</g>
<g id="c247" transform="translate(6720,0)">
<g id="n247" class="box"><rect x="64.5" y="40.5" width="160" height="80"/><text class="t" x="144.5" y="77">payment,carts,orders,user,</text><text class="t" x="144.5" y="90">catalogue,</text></g>
<g id="n247-1" class="w"><circle cx="144.5" cy="200" r="44"/></g>
<g id="n247-2" class="w"><circle cx="144.5" cy="320" r="44"/></g>
<g id="n247-3" class="w"><circle cx="144.5" cy="440" r="44"/></g>
<g id="n247-4" class="w"><circle cx="144.5" cy="560" r="44"/></g>
<g id="n247-5" class="w"><circle cx="144.5" cy="680" r="44"/></g>
<g id="n247-6" class="o"><circle cx="144.5" cy="800" r="44"/></g>
<g id="n247-7" class="w"><circle cx="144.5" cy="920" r="44"/></g>
<g id="n247-8" class="w"><circle cx="144.5" cy="1040" r="44"/></g>
<g id="n247-9" class="o"><circle cx="144.5" cy="1160" r="44"/></g>
<g id="n247-10" class="o"><circle cx="144.5" cy="1280" r="44"/></g>
<g id="n247-11" class="o"><circle cx="144.5" cy="1400" r="44"/></g>
</g>
</g>
</svg>
